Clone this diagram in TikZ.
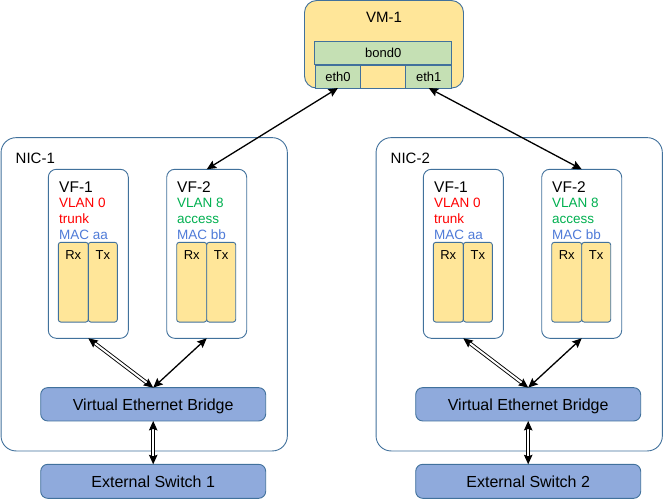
\documentclass[tikz,border=0pt]{standalone}
\usepackage{fontspec}
\setmainfont{Liberation Sans}
\usetikzlibrary{arrows.meta}
\definecolor{bordc}{HTML}{41719C}
\definecolor{yel}{HTML}{FFE699}
\definecolor{grn}{HTML}{C5E0B4}
\definecolor{blu}{HTML}{8FAADC}
\definecolor{vred}{HTML}{FF0000}
\definecolor{vgrn}{HTML}{00B050}
\definecolor{vblu}{HTML}{4F7BD8}
\tikzset{
 box/.style={draw=bordc, line width=0.9pt, inner sep=0pt, outer sep=0pt},
 nicbox/.style={box, rounded corners=15pt, fill=white},
 vfbox/.style={box, rounded corners=8pt, fill=white},
 qbox/.style={box, rounded corners=2.5pt, fill=yel},
 bbox/.style={box, rounded corners=7pt, fill=blu, font=\fontsize{16}{18}\selectfont, text height=11.5pt, text depth=0pt},
 gbox/.style={box, fill=grn, font=\fontsize{13}{15}\selectfont, text height=9.3pt, text depth=0pt},
 lbl/.style={inner sep=0pt, anchor=base west},
 ctr/.style={inner sep=0pt, anchor=base},
 tip/.tip={Stealth[length=9.5pt,width=8.5pt,inset=1.5pt]},
 conn/.style={line width=1.3pt, tip-tip},
 dconn/.style={line width=0.9pt, double, double distance=2pt, tip-tip}
}
\newcommand{\fvf}{\fontsize{15.5}{17}\selectfont}
\newcommand{\fsm}{\fontsize{13.5}{15}\selectfont}
\newcommand{\frx}{\fontsize{13}{14}\selectfont}
\newcommand{\fnic}{\fontsize{15}{16}\selectfont}
\begin{document}
\begin{tikzpicture}[x=1pt,y=-1pt]
\useasboundingbox (0,0) rectangle (663,500);
% VM
\node[box, rounded corners=12pt, fill=yel, minimum width=159pt, minimum height=87.5pt] (vm) at (384,44.3) {};
\node[ctr, font=\fnic] (vmt) at (384,22.7) {VM-1};
\node[gbox, minimum width=137pt, minimum height=23.3pt] (bond) at (383.3,53.3) {bond0};
\node[gbox, minimum width=45.7pt, minimum height=23pt] (eth0) at (338,76.5) {eth0};
\node[box, fill=yel, minimum width=45pt, minimum height=23pt] (ethm) at (383.2,76.5) {};
\node[gbox, minimum width=46pt, minimum height=23pt] (eth1) at (428.7,76.5) {eth1};
\foreach \i/\dx in {1/0,2/375}{
  \node[nicbox, minimum width=286.3pt, minimum height=313.3pt] (nic\i) at (144.2+\dx,294.3) {};
  \node[lbl, font=\fnic] (nict\i) at (15.5+\dx,163.1) {NIC-\i};
  % VF-1
  \node[vfbox, minimum width=80pt, minimum height=169pt] (vfa\i) at (88.3+\dx,253.8) {};
  \node[lbl, font=\fvf] (vfat\i) at (59+\dx,192.2) {VF-1};
  \node[lbl, font=\fsm] (vfav\i) at (59+\dx,207.2) {\textcolor{vred}{VLAN 0}};
  \node[lbl, font=\fsm, text=vred] (vfam\i) at (59+\dx,223.2) {trunk};
  \node[lbl, font=\fsm, text=vblu] (vfac\i) at (59+\dx,239.2) {MAC aa};
  \node[qbox, minimum width=30pt, minimum height=79.7pt] (rxa\i) at (73.3+\dx,282.2) {};
  \node[qbox, minimum width=29pt, minimum height=79.7pt] (txa\i) at (102.8+\dx,282.2) {};
  \node[ctr, font=\frx] (rxat\i) at (73.3+\dx,259.6) {Rx};
  \node[ctr, font=\frx] (txat\i) at (102.8+\dx,259.6) {Tx};
  % VF-2
  \node[vfbox, minimum width=80pt, minimum height=169pt] (vfb\i) at (206.7+\dx,253.8) {};
  \node[lbl, font=\fvf] (vfbt\i) at (177+\dx,192.2) {VF-2};
  \node[lbl, font=\fsm, text=vgrn] (vfbv\i) at (177+\dx,207.2) {VLAN 8};
  \node[lbl, font=\fsm, text=vgrn] (vfbm\i) at (177+\dx,223.2) {access};
  \node[lbl, font=\fsm, text=vblu] (vfbc\i) at (177+\dx,239.2) {MAC bb};
  \node[qbox, minimum width=30pt, minimum height=79.7pt] (rxb\i) at (191.7+\dx,282.2) {};
  \node[qbox, minimum width=29pt, minimum height=79.7pt] (txb\i) at (221.2+\dx,282.2) {};
  \node[ctr, font=\frx] (rxbt\i) at (191.7+\dx,259.6) {Rx};
  \node[ctr, font=\frx] (txbt\i) at (221.2+\dx,259.6) {Tx};
  % bridge and switch
  \node[bbox, minimum width=225pt, minimum height=33.3pt] (veb\i) at (153.2+\dx,404.3) {Virtual Ethernet Bridge};
  \node[bbox, minimum width=225pt, minimum height=34pt] (ext\i) at (153.2+\dx,481.3) {External Switch \i};
  \draw[dconn] (vfa\i.south) -- (veb\i.north);
  \draw[conn] (vfb\i.south) -- (veb\i.north);
  \draw[dconn] (veb\i.south) -- (ext\i.north);
}
\draw[conn] (eth0.south) -- (vfb1.north);
\draw[conn] (eth1.south) -- (vfb2.north);
\end{tikzpicture}
\end{document}
